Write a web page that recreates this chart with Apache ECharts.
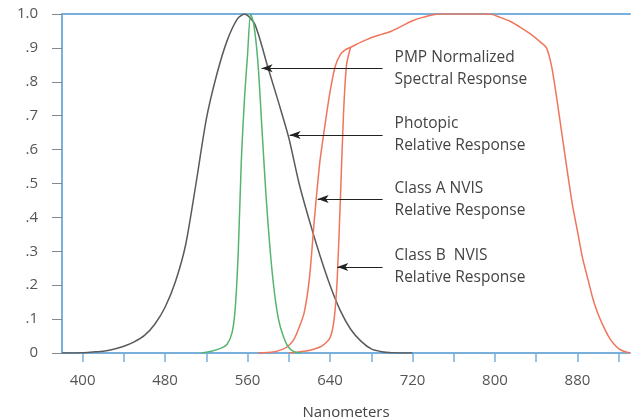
<!DOCTYPE html>
<html>
<head>
<meta charset="utf-8">
<script src="https://cdn.jsdelivr.net/npm/echarts@6/dist/echarts.min.js"></script>
<style>
  html, body { margin: 0; padding: 0; background: #fff; }
  #chart { width: 634px; height: 420px; }
</style>
</head>
<body>
<div id="chart"></div>
<script>
// wavelength (nm) / relative response pairs
const photopic = [
  [380, 0], [400, 0.001], [410, 0.003], [420, 0.005], [430, 0.011], [440, 0.02],
  [450, 0.033], [460, 0.052], [470, 0.085], [480, 0.135], [490, 0.21], [500, 0.32],
  [510, 0.5], [520, 0.69], [530, 0.82], [540, 0.92], [550, 0.985], [557, 1.0],
  [567, 0.97], [580, 0.84], [590, 0.74], [600, 0.635], [610, 0.5], [620, 0.39],
  [630, 0.29], [640, 0.2], [650, 0.125], [660, 0.07], [670, 0.035], [680, 0.012],
  [690, 0.004], [700, 0.001], [720, 0]
];
const pmp = [
  [515, 0], [525, 0.005], [535, 0.015], [540, 0.025], [545, 0.06], [548, 0.13],
  [551, 0.3], [554, 0.57], [557, 0.75], [560, 0.88], [563, 1.0],
  [566, 0.97], [570, 0.86], [574, 0.66], [578, 0.46], [582, 0.3],
  [586, 0.18], [590, 0.1], [594, 0.055], [599, 0.02], [605, 0.004], [612, 0]
];
const classA = [
  [570, 0], [585, 0.003], [595, 0.012], [600, 0.022], [605, 0.04], [610, 0.075],
  [615, 0.12], [620, 0.22], [625, 0.4], [630, 0.56], [635, 0.67],
  [640, 0.77], [645, 0.845], [650, 0.88], [655, 0.895], [660, 0.902], [670, 0.917],
  [680, 0.93], [690, 0.94], [700, 0.95], [710, 0.965], [720, 0.98], [730, 0.99],
  [745, 1.0], [795, 1.0], [805, 0.99], [815, 0.978], [825, 0.96], [835, 0.94],
  [845, 0.915], [850, 0.9], [855, 0.845], [860, 0.75], [865, 0.645], [870, 0.54],
  [875, 0.44], [880, 0.36], [885, 0.28], [890, 0.22], [895, 0.16], [900, 0.115],
  [905, 0.08], [910, 0.05], [915, 0.028], [920, 0.013], [925, 0.005], [931, 0]
];
const classB = [
  [600, 0], [615, 0.005], [625, 0.012], [632, 0.02], [640, 0.045], [644, 0.1],
  [647, 0.22], [650, 0.45], [653, 0.7], [656, 0.85], [660, 0.902]
];
const tickValues = [400, 440, 480, 520, 560, 600, 640, 680, 720, 760, 800, 840, 880, 920];
const labelValues = [400, 480, 560, 640, 720, 800, 880];
// annotation: arrow tip [nm, value], tail nm, text
const notes = [
  { tip: [573.6, 0.84], tail: 691, text: 'PMP Normalized\nSpectral Response' },
  { tip: [600.8, 0.643], tail: 691, text: 'Photopic\nRelative Response' },
  { tip: [628, 0.454], tail: 691, text: 'Class A NVIS\nRelative Response' },
  { tip: [647, 0.254], tail: 691, text: 'Class B  NVIS\nRelative Response' }
];

const blue = '#78b0dd';
const font = '"Open Sans", "Liberation Sans", sans-serif';

const arrow = (n) => ({
  silent: true,
  symbol: ['arrow', 'none'],
  symbolSize: [6, 11],
  lineStyle: { color: '#222', width: 1, type: 'solid' },
  label: {
    show: true, position: 'end', distance: 12, formatter: n.text,
    color: '#444', fontSize: 15.5, lineHeight: 22, fontFamily: font, align: 'left'
  },
  data: [[{ coord: n.tip }, { coord: [n.tail, n.tip[1]] }]]
});

const line = (name, data, color, note) => ({
  name, type: 'line', data, smooth: 0.25,
  showSymbol: false, silent: true,
  lineStyle: { color, width: 1.5 },
  markLine: note ? arrow(note) : undefined
});

let myChart = echarts.init(document.getElementById('chart'));
myChart.setOption({
  animation: false,
  grid: { left: 62, right: 4, top: 14, bottom: 67, outerBoundsMode: 'none' },
  xAxis: [
    {
      type: 'value', min: 380, max: 931,
      name: 'Nanometers', nameLocation: 'middle', nameGap: 52,
      nameTextStyle: { color: '#444', fontSize: 15, fontFamily: font },
      axisLine: { show: true, lineStyle: { color: blue, width: 2 } },
      axisTick: { show: true, customValues: tickValues, length: 9, lineStyle: { color: blue, width: 1.5 } },
      axisLabel: { customValues: labelValues, margin: 20, color: '#555', fontSize: 15, fontFamily: font },
      splitLine: { show: false }
    },
    {
      type: 'value', min: 380, max: 931, position: 'top',
      axisLine: { show: true, lineStyle: { color: blue, width: 2 } },
      axisTick: { show: false }, axisLabel: { show: false }, splitLine: { show: false }
    }
  ],
  yAxis: {
    type: 'value', min: 0, max: 1, interval: 0.1,
    axisLine: { show: true, lineStyle: { color: blue, width: 2 } },
    axisTick: { show: true, length: 10, lineStyle: { color: '#888', width: 1 } },
    axisLabel: {
      margin: 24, color: '#555', fontSize: 15, fontFamily: font,
      formatter: (v) => {
        const d = Math.round(v * 10);
        return d === 10 ? '1.0' : d === 0 ? '0' : '.' + d;
      }
    },
    splitLine: { show: false }
  },
  series: [
    line('Photopic', photopic, '#5a5a5a', notes[1]),
    line('Class A NVIS', classA, '#f0755a', notes[2]),
    line('Class B NVIS', classB, '#f0755a', notes[3]),
    line('PMP', pmp, '#55b46e', notes[0])
  ]
});
window.onresize = function () {
  myChart.resize();
};
</script>
</body>
</html>
